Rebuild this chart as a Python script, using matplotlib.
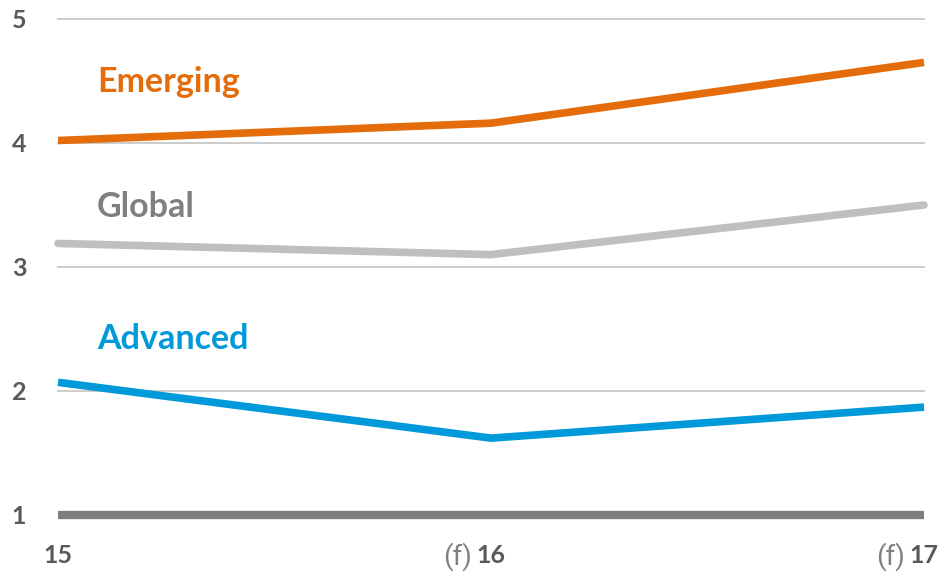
import matplotlib
matplotlib.use("Agg")
import matplotlib.pyplot as plt

plt.rcParams['font.family'] = ['Lato', 'DejaVu Sans']

years = ["15", "16", "17"]
forecast = [False, True, True]
emerging = [4.02, 4.16, 4.65]
global_ = [3.19, 3.10, 3.50]
advanced = [2.07, 1.62, 1.87]
y_ticks = [1, 2, 3, 4, 5]

ORANGE = "#E46C0A"
GREY_LINE = "#BFBFBF"
GREY_TEXT = "#808080"
BLUE = "#0099D9"
DARK = "#595959"

fig = plt.figure(figsize=(9.42, 5.76), dpi=100)
ax = fig.add_axes([58 / 942, 1 - 515 / 576, (924 - 58) / 942, (515 - 19) / 576])

x = list(range(len(years)))
ax.set_xlim(0, len(years) - 1)
ax.set_ylim(1, 5)

for y in y_ticks[1:]:
    ax.axhline(y, color="#C8C8C8", lw=1.3, zorder=1, clip_on=False)
ax.axhline(1, color="#7F7F7F", lw=6, zorder=1, clip_on=False, solid_capstyle="butt")

ax.plot(x, emerging, color=ORANGE, lw=5.5, zorder=3, clip_on=False, solid_capstyle="butt")
ax.plot(x, global_, color=GREY_LINE, lw=5.5, zorder=3, clip_on=False, solid_capstyle="round")
ax.plot(x, advanced, color=BLUE, lw=5.5, zorder=3, clip_on=False, solid_capstyle="butt")

lbl = dict(fontsize=24.5, fontweight="bold", ha="left", va="center")
ax.text(0.09, 4.49, "Emerging", color=ORANGE, **lbl)
ax.text(0.09, 3.48, "Global", color=GREY_TEXT, **lbl)
ax.text(0.09, 2.42, "Advanced", color=BLUE, **lbl)

for s in ax.spines.values():
    s.set_visible(False)

ax.set_yticks(y_ticks)
ax.set_yticklabels([str(v) for v in y_ticks], fontsize=18, fontweight="bold", color=DARK)
ax.tick_params(axis="y", length=0, pad=28)
for t in ax.get_yticklabels():
    t.set_horizontalalignment("center")

ax.set_xticks(x)
ax.set_xticklabels(years, fontsize=18, fontweight="bold", color=DARK)
ax.tick_params(axis="x", length=0, pad=21)

fig.canvas.draw()
for t, f in zip(ax.get_xticklabels(), forecast):
    if f:
        ax.annotate("(f)", xy=(0, 0.45), xycoords=t, xytext=(-3, 0),
                    textcoords="offset points", ha="right", va="center",
                    fontsize=20, color=GREY_TEXT,
                    family=["Liberation Sans Narrow", "Roboto", "DejaVu Sans"])

fig.savefig("out.png", dpi=100)
